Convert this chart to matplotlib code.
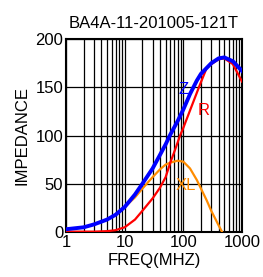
import matplotlib
matplotlib.use("Agg")
import matplotlib.pyplot as plt
from matplotlib.ticker import LogLocator, NullFormatter, FixedLocator

plt.rcParams['font.family'] = ['Liberation Sans', 'DejaVu Sans']

# impedance curve readings (MHz -> ohm)
freq_z = [1, 2, 3, 5, 7, 10, 15, 20, 30, 40, 50, 60, 80, 100, 130, 170, 200, 300, 400, 500, 700, 1000]
z_vals = [3, 5, 8, 13, 18, 26, 39, 50, 66, 80, 91, 101, 115, 127, 143, 157, 164, 175, 180, 181, 177, 167]

freq_r = [1, 2, 3, 5, 7, 10, 15, 20, 30, 40, 50, 60, 72, 88, 100, 130, 190, 250, 300, 400, 500, 700, 1000]
r_vals = [0.5, 0.5, 0.5, 1, 2, 5, 13, 22, 35, 46, 57, 72, 85, 100, 108, 126, 152, 170, 174, 179, 180, 174, 156]

freq_xl = [1, 2, 3, 5, 7, 10, 15, 20, 30, 40, 50, 60, 80, 100, 130, 170, 250, 300, 400, 460]
xl_vals = [2.5, 5, 8, 13, 18, 26, 36, 45, 57, 65, 70, 72, 74, 73, 66, 54, 33, 22, 7, 0]

title = "BA4A-11-201005-121T"
yticks = [0, 50, 100, 150, 200]
xticks = [1, 10, 100, 1000]

fig = plt.figure(figsize=(2.63, 2.77), dpi=100)
ax = fig.add_axes([0.251, 0.162, 0.669, 0.697])

ax.plot(freq_xl, xl_vals, color='#FF8C00', lw=1.6, zorder=3)
ax.plot(freq_r, r_vals, color='#FF0000', lw=1.6, zorder=4)
ax.plot(freq_z, z_vals, color='#0000FF', lw=2.8, zorder=5)

ax.set_xscale('log')
ax.set_xlim(1, 1000)
ax.set_ylim(0, 200)
ax.xaxis.set_major_locator(FixedLocator(xticks))
ax.set_xticklabels([str(t) for t in xticks])
ax.xaxis.set_minor_locator(LogLocator(base=10, subs=range(2, 10)))
ax.xaxis.set_minor_formatter(NullFormatter())
ax.set_yticks(yticks)
ax.grid(True, which='both', axis='x', color='black', lw=0.9)
ax.grid(True, which='major', axis='y', color='black', lw=0.9)
ax.tick_params(which='both', length=0, labelsize=12, pad=2)
for s in ax.spines.values():
    s.set_linewidth(1.5)

ax.text(100, 148, "Z", color='#0000FF', fontsize=12, ha='center', va='center', zorder=6)
ax.text(224, 126, "R", color='#FF0000', fontsize=12, ha='center', va='center', zorder=6)
ax.text(112, 48, "XL", color='#FF8C00', fontsize=12, ha='center', va='center', zorder=6)

ax.set_title(title, fontsize=12, pad=8)
ax.set_xlabel("FREQ(MHZ)", fontsize=12, labelpad=2)
ax.set_ylabel("IMPEDANCE", fontsize=12, labelpad=4)

fig.savefig("out.png", dpi=100)
